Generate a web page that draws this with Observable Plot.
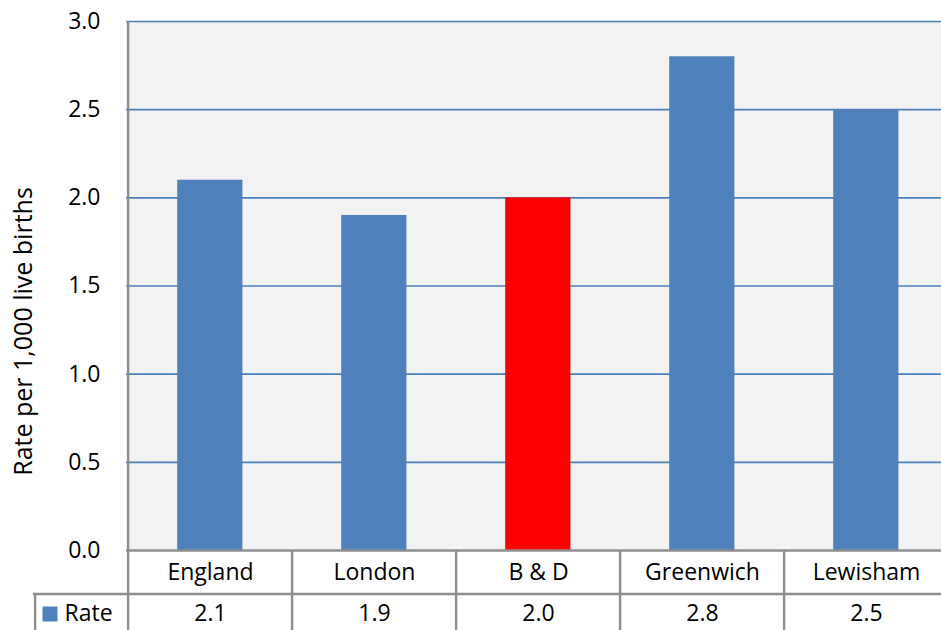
<!DOCTYPE html>
<html>
<head>
<meta charset="utf-8">
<script src="https://cdn.jsdelivr.net/npm/d3@7"></script>
<script src="https://cdn.jsdelivr.net/npm/@observablehq/plot@0.6"></script>
<style>
  html, body { margin: 0; padding: 0; background: #ffffff; }
  #chart { width: 941px; height: 630px; overflow: hidden; }
  #chart svg { overflow: hidden; }
</style>
</head>
<body>
<div id="chart"></div>
<script>
// Rate per 1,000 live births by area, with a data table under the axis
const areas = ["England", "London", "B & D", "Greenwich", "Lewisham"];
const rates = [2.1, 1.9, 2.0, 2.8, 2.5];
const highlightArea = "B & D";
const seriesName = "Rate";
const yTicks = [0, 0.5, 1.0, 1.5, 2.0, 2.5, 3.0];

const rows = areas.map((name, i) => ({name, rate: rates[i]}));

const blue = "#4f81bd";
const red = "#ff0000";
const gridBlue = "#4a7ebb";
const border = "#8e8e8e";
const font = "'Open Sans', sans-serif";
const fs = 23;

const cellW = 164.8;           // width of one category band
const half = cellW / 2;
const rowH = 43.5;             // height of the category-label row

const chart = Plot.plot({
  width: 941,
  height: 630,
  marginTop: 21,
  marginBottom: 80,
  marginLeft: 126,
  marginRight: 0,
  style: {fontFamily: font, fontSize: fs + "px", color: "#000", background: "#fff"},
  x: {domain: areas, range: [126, 126 + cellW * areas.length], padding: 0, axis: null},
  y: {domain: [0, 3], axis: null},
  marks: [
    Plot.frame({fill: "#f2f2f2", stroke: null}),
    Plot.ruleY(yTicks.filter(d => d > 0), {stroke: gridBlue, strokeWidth: 1.6}),
    Plot.barY(rows, {
      x: "name", y: "rate",
      fill: d => d.name === highlightArea ? red : blue,
      insetLeft: 49.2, insetRight: 49.6
    }),
    Plot.axisY({
      ticks: yTicks, tickFormat: d3.format(".1f"), tickSize: 0, tickPadding: 26,
      fontSize: fs, label: null
    }),
    Plot.text(["Rate per 1,000 live births"], {
      frameAnchor: "left", textAnchor: "middle", rotate: -90, dx: -103, dy: 45.5, fontSize: 25
    }),
    // data table: baseline, row divider, cell borders
    Plot.ruleY([0], {stroke: border, strokeWidth: 2.4}),
    Plot.ruleY([0], {stroke: border, strokeWidth: 2.4, dy: rowH, insetLeft: -93}),
    Plot.ruleX(["England"], {stroke: border, strokeWidth: 2.4, dx: -half}),
    Plot.ruleX(areas, {
      y1: 0, y2: 0, insetBottom: -82, dx: -half, stroke: border, strokeWidth: 2.4
    }),
    Plot.ruleX(["England"], {
      y1: 0, y2: 0, insetTop: rowH, insetBottom: -82, dx: -half - 93,
      stroke: border, strokeWidth: 2.4
    }),
    // category labels and values
    Plot.text(rows, {x: "name", y: 0, text: "name", dy: 22.5, fontSize: fs, fill: "#000"}),
    Plot.text(rows, {x: "name", y: 0, text: d => d3.format(".1f")(d.rate), dy: 63, fontSize: fs, fill: "#000"}),
    // series key in the table
    Plot.dot([seriesName], {
      frameAnchor: "bottom-left", symbol: "square", r: 8.46, fill: blue, stroke: null,
      dx: -76.5, dy: 63.5
    }),
    Plot.text([seriesName], {
      frameAnchor: "bottom-left", lineAnchor: "middle", text: d => d, textAnchor: "start",
      dx: -62, dy: 63, fontSize: fs, fill: "#000"
    })
  ]
});

document.getElementById("chart").appendChild(chart);
</script>
</body>
</html>
